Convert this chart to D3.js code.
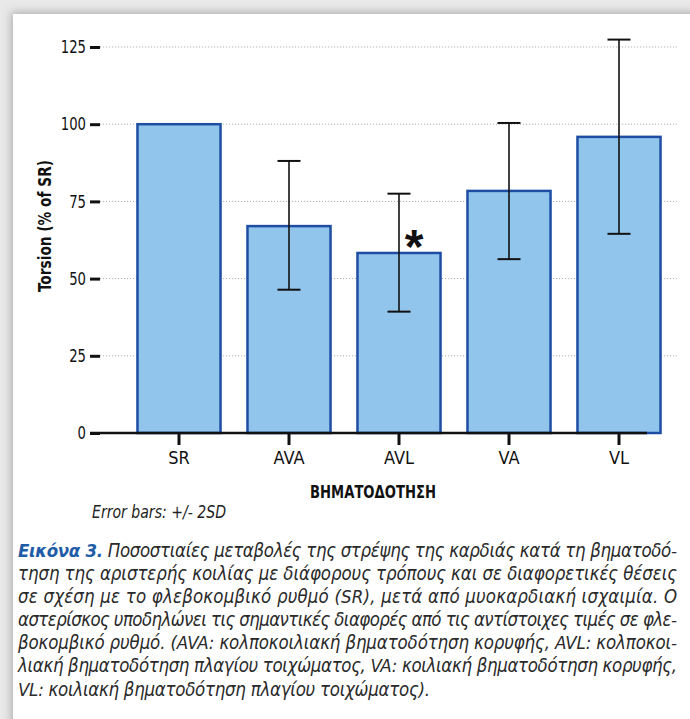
<!DOCTYPE html>
<html>
<head>
<meta charset="utf-8">
<script src="https://cdn.jsdelivr.net/npm/d3@7"></script>
<style>
  body { margin: 0; background: #e9e9e9; }
  svg { display: block; }
  .narrow { font-family: 'Liberation Sans Narrow', 'DejaVu Sans Condensed', 'Roboto', sans-serif; }
</style>
</head>
<body>
<svg id="chart" width="690" height="719"></svg>
<script>
// data
const categories = ['SR', 'AVA', 'AVL', 'VA', 'VL'];
const means = [100, 67, 58.3, 78.4, 95.9];
const errLow = [null, 46.4, 39.3, 56.3, 64.5];
const errHigh = [null, 88.1, 77.5, 100.4, 127.4];
const yTicks = [0, 25, 50, 75, 100, 125];
const starred = ['AVL'];

const captionLines = [
  'τηση της αριστερής κοιλίας με διάφορους τρόπους και σε διαφορετικές θέσεις',
  'σε σχέση με το φλεβοκομβικό ρυθμό (SR), μετά από μυοκαρδιακή ισχαιμία. Ο',
  'αστερίσκος υποδηλώνει τις σημαντικές διαφορές από τις αντίστοιχες τιμές σε φλε-',
  'βοκομβικό ρυθμό. (AVA: κολποκοιλιακή βηματοδότηση κορυφής, AVL: κολποκοι-',
  'λιακή βηματοδότηση πλαγίου τοιχώματος, VA: κοιλιακή βηματοδότηση κορυφής,',
  'VL: κοιλιακή βηματοδότηση πλαγίου τοιχώματος).'
];

const data = categories.map((c, i) => ({cat: c, mean: means[i], lo: errLow[i], hi: errHigh[i]}));

const svg = d3.select('#chart');

// grey frame with a soft shadow round the white card
const defs = svg.append('defs');
const shadow = defs.append('filter').attr('id', 'shadow')
  .attr('x', '-5%').attr('y', '-5%').attr('width', '110%').attr('height', '110%');
shadow.append('feDropShadow')
  .attr('dx', -2).attr('dy', -2).attr('stdDeviation', 4)
  .attr('flood-color', '#777').attr('flood-opacity', 0.5);

svg.append('rect').attr('width', 690).attr('height', 719).attr('fill', '#e9e9e9');
svg.append('rect')
  .attr('x', 13).attr('y', 14).attr('width', 700).attr('height', 720)
  .attr('fill', '#fff')
  .attr('filter', 'url(#shadow)');

const xScale = d3.scaleBand()
  .domain(categories)
  .range([124, 674])
  .paddingInner(0.245)
  .paddingOuter(0.1225);

const yScale = d3.scaleLinear()
  .domain([0, 125])
  .range([433, 47]);

// dotted grid
svg.append('g')
  .selectAll('line')
  .data(yTicks.filter(d => d > 0))
  .join('line')
    .attr('x1', 100).attr('x2', 677)
    .attr('y1', d => yScale(d)).attr('y2', d => yScale(d))
    .attr('stroke', '#b0b0b0')
    .attr('stroke-width', 1)
    .attr('stroke-dasharray', '1.2,1.8');

// y axis: ticks only
const yAxis = svg.append('g')
  .attr('class', 'narrow')
  .attr('transform', 'translate(100,0)')
  .call(d3.axisLeft(yScale).tickValues(yTicks).tickSize(10).tickPadding(4));
yAxis.select('.domain').remove();
yAxis.selectAll('.tick line').attr('stroke', '#111').attr('stroke-width', 3);
yAxis.selectAll('.tick text')
  .attr('font-size', 18).attr('fill', '#111')
  .attr('font-family', null)
  .attr('textLength', d => String(d).length * 8.4)
  .attr('lengthAdjust', 'spacingAndGlyphs');

// bars
svg.append('g')
  .selectAll('rect')
  .data(data)
  .join('rect')
    .attr('x', d => xScale(d.cat))
    .attr('y', d => yScale(d.mean))
    .attr('width', xScale.bandwidth())
    .attr('height', d => yScale(0) - yScale(d.mean))
    .attr('fill', '#92c5ec')
    .attr('stroke', '#1d4ea3')
    .attr('stroke-width', 2.5);

// x axis
const xAxis = svg.append('g')
  .attr('class', 'narrow')
  .attr('transform', `translate(0,${yScale(0)})`)
  .call(d3.axisBottom(xScale).tickSize(12).tickPadding(6));
xAxis.select('.domain').remove();
xAxis.selectAll('.tick line').attr('stroke', '#111').attr('stroke-width', 3);
xAxis.selectAll('.tick text')
  .attr('font-size', 18).attr('fill', '#111')
  .attr('font-family', null);

svg.append('line')
  .attr('x1', 90).attr('x2', 647)
  .attr('y1', yScale(0)).attr('y2', yScale(0))
  .attr('stroke', '#111')
  .attr('stroke-width', 2.5);

// error bars
const errs = svg.append('g')
  .selectAll('g')
  .data(data.filter(d => d.lo != null))
  .join('g')
    .attr('transform', d => `translate(${xScale(d.cat) + xScale.bandwidth() / 2},0)`);
errs.append('line')
  .attr('y1', d => yScale(d.lo)).attr('y2', d => yScale(d.hi))
  .attr('stroke', '#111').attr('stroke-width', 1.6);
errs.selectAll('line.cap')
  .data(d => [d.lo, d.hi])
  .join('line')
    .attr('class', 'cap')
    .attr('x1', -11.5).attr('x2', 11.5)
    .attr('y1', v => yScale(v)).attr('y2', v => yScale(v))
    .attr('stroke', '#111').attr('stroke-width', 2);

// significance star
svg.append('g')
  .selectAll('text')
  .data(data.filter(d => starred.includes(d.cat)))
  .join('text')
    .attr('x', d => xScale(d.cat) + xScale.bandwidth() / 2 + 15)
    .attr('y', d => yScale(d.mean) + 10)
    .attr('text-anchor', 'middle')
    .attr('font-family', 'Liberation Sans, Arial, sans-serif')
    .attr('font-weight', 'bold')
    .attr('font-size', 48)
    .attr('fill', '#111')
    .text('*');

// axis titles
svg.append('text')
  .attr('class', 'narrow')
  .attr('transform', 'translate(51,226) rotate(-90)')
  .attr('text-anchor', 'middle')
  .attr('font-weight', 'bold')
  .attr('font-size', 17)
  .attr('fill', '#111')
  .attr('textLength', 132)
  .attr('lengthAdjust', 'spacingAndGlyphs')
  .text('Torsion (% of SR)');

svg.append('text')
  .attr('class', 'narrow')
  .attr('x', 373).attr('y', 498)
  .attr('text-anchor', 'middle')
  .attr('font-weight', 'bold')
  .attr('font-size', 18)
  .attr('fill', '#111')
  .attr('textLength', 126)
  .attr('lengthAdjust', 'spacingAndGlyphs')
  .text('ΒΗΜΑΤΟΔΟΤΗΣΗ');

svg.append('text')
  .attr('class', 'narrow')
  .attr('x', 92).attr('y', 518)
  .attr('font-style', 'italic')
  .attr('font-size', 17)
  .attr('fill', '#222')
  .attr('textLength', 134)
  .attr('lengthAdjust', 'spacingAndGlyphs')
  .text('Error bars: +/- 2SD');

// caption, justified line by line
const cap = svg.append('g')
  .attr('class', 'narrow')
  .attr('font-style', 'italic')
  .attr('font-size', 18.5)
  .attr('fill', '#2a2a2a');

const first = cap.append('text')
  .attr('x', 18).attr('y', 557)
  .attr('textLength', 659)
  .attr('lengthAdjust', 'spacing');
first.append('tspan')
  .attr('font-weight', 'bold')
  .attr('fill', '#1f5ca8')
  .text('Εικόνα 3.');
first.append('tspan')
  .text(' Ποσοστιαίες μεταβολές της στρέψης της καρδιάς κατά τη βηματοδό-');

cap.selectAll('text.line')
  .data(captionLines)
  .join('text')
    .attr('class', 'line')
    .attr('x', 18)
    .attr('y', (d, i) => 580 + i * 23.1)
    .attr('textLength', (d, i) => i < captionLines.length - 1 ? 659 : 412)
    .attr('lengthAdjust', 'spacing')
    .text(d => d);
</script>
</body>
</html>
